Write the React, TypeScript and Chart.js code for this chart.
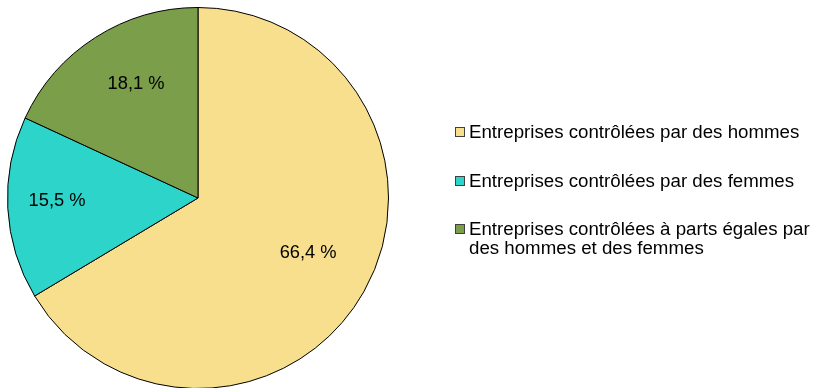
import React, { useEffect, useRef } from "react";
import { Chart, registerables } from "chart.js";

Chart.register(...registerables);

const categories = [
  "Entreprises contrôlées par des hommes",
  "Entreprises contrôlées par des femmes",
  "Entreprises contrôlées à parts égales par des hommes et des femmes",
];
const values = [66.4, 15.5, 18.1];
const valueLabels = ["66,4 %", "15,5 %", "18,1 %"];
const colors = ["#F8DF8E", "#2DD4C9", "#7A9E4A"];

const FONT = "Liberation Sans, Arial, sans-serif";
// label placement style (fraction of radius, angular nudge in degrees)
const labelRadiusFrac = [0.646, 0.74, 0.68];
const labelAngleNudge = [-3, 2, 4];

const labelPlugin = {
  id: "sliceLabels",
  afterDatasetsDraw(chart: any) {
    const ctx = chart.ctx;
    const meta = chart.getDatasetMeta(0);
    ctx.save();
    ctx.font = `18.3px ${FONT}`;
    ctx.fillStyle = "#000000";
    ctx.textAlign = "center";
    ctx.textBaseline = "middle";
    meta.data.forEach((arc: any, i: number) => {
      const p = arc.getProps(["x", "y", "startAngle", "endAngle", "outerRadius"], true);
      const mid = (p.startAngle + p.endAngle) / 2 + (labelAngleNudge[i] * Math.PI) / 180;
      const r = p.outerRadius * labelRadiusFrac[i];
      ctx.fillText(valueLabels[i], p.x + Math.cos(mid) * r, p.y + Math.sin(mid) * r);
    });
    ctx.restore();
  },
};

export default function App() {
  const ref = useRef<HTMLCanvasElement | null>(null);
  useEffect(() => {
    if (!ref.current) return;
    const chart = new Chart(ref.current, {
      type: "pie",
      data: {
        labels: categories,
        datasets: [
          {
            data: values,
            backgroundColor: colors,
            borderColor: "#000000",
            borderWidth: 1,
          },
        ],
      },
      options: {
        responsive: false,
        animation: false,
        devicePixelRatio: 1,
        layout: { padding: 0 },
        plugins: {
          legend: { display: false },
          tooltip: { enabled: false },
        },
      },
      plugins: [labelPlugin],
    });
    return () => chart.destroy();
  }, []);

  const tops = [122, 171, 219];
  return (
    <div>
      <div style={{ position: "fixed", left: 7, top: 7, width: 382, height: 382 }}>
        <canvas ref={ref} width={382} height={382} style={{ width: 382, height: 382 }} />
      </div>
      {categories.map((c, i) => (
        <div
          key={i}
          style={{
            position: "fixed",
            left: 455,
            top: tops[i],
            width: 370,
            display: "flex",
            alignItems: "flex-start",
            fontFamily: FONT,
            fontSize: "18.7px",
            lineHeight: "19px",
            color: "#000",
          }}
        >
          <span
            style={{
              display: "inline-block",
              width: 8,
              height: 8,
              marginTop: 5,
              marginRight: 4,
              background: colors[i],
              border: "1px solid #404040",
              flex: "0 0 auto",
            }}
          />
          <span style={{ width: 350 }}>{c}</span>
        </div>
      ))}
    </div>
  );
}
